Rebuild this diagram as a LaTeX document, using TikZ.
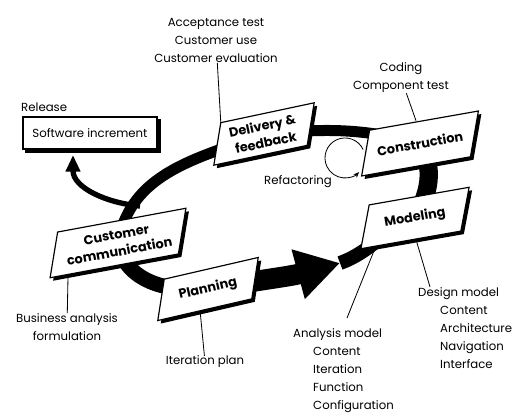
\documentclass[tikz,border=0pt]{standalone}
\usepackage{fontspec}
\setmainfont{Poppins}
\usetikzlibrary{arrows.meta, calc}
\pgfdeclarelayer{back}
\pgfdeclarelayer{boxes}
\pgfsetlayers{back,boxes,main}

\begin{document}
\begin{tikzpicture}[x=0.03cm, y=0.03cm,
    phase/.style={align=center, inner sep=0pt, font=\fontsize{11}{14.5}\selectfont\bfseries},
    note/.style={align=center, inner sep=0pt, font=\fontsize{10}{15.4}\selectfont},
    link/.style={line width=0.7pt},
    band/.style={line width=0.33cm}]
\useasboundingbox (0,0) rectangle (516,414);

% the five framework activities
\node[phase, rotate=12, minimum width=2.85cm, minimum height=1.29cm] (deliv) at (264,280) {Delivery \&\\feedback};
\node[phase, rotate=10, minimum width=3.3cm, minimum height=1.38cm] (constr) at (420,270.5) {Construction};
\node[phase, rotate=10, minimum width=3.03cm, minimum height=1.32cm] (model) at (415,196) {Modeling};
\node[phase, rotate=10.5, minimum width=3.9cm, minimum height=1.38cm] (comm) at (118,171) {Customer\\communication};
\node[phase, rotate=13, minimum width=2.88cm, minimum height=1.26cm] (plan) at (208,125) {Planning};

\node[draw, fill=white, line width=1pt, minimum width=4.02cm, minimum height=0.96cm] (soft) at (90,281) {Software increment};
\node[note, anchor=west] (rel) at (21,307) {Release};

% notes
\node[note] (acc) at (216,373.5) {Acceptance test\\Customer use\\Customer evaluation};
\node[note] (cod) at (401,336) {Coding\\Component test};
\node[note] (ref) at (298,232) {Refactoring};
\node[note] (bus) at (67,87) {Business analysis\\formulation};
\node[note] (itp) at (205,52) {Iteration plan};
\node[note, align=left, anchor=north west] (ana) at (293,86) {Analysis model\\\hspace*{0.6cm}Content\\\hspace*{0.6cm}Iteration\\\hspace*{0.6cm}Function\\\hspace*{0.6cm}Configuration};
\node[note, align=left, anchor=north west] (des) at (418,127) {Design model\\\hspace*{0.66cm}Content\\\hspace*{0.66cm}Architecture\\\hspace*{0.66cm}Navigation\\\hspace*{0.66cm}Interface};

\coordinate (tip) at (340,151);
\coordinate (brn) at (140,208);
\coordinate (up) at (73,259);

% the loop
\begin{pgfonlayer}{back}
\draw[band, line width=0.55cm] (model.center) to[out=60,in=-60] (constr.center);
\draw[band] (constr.center) to[out=165,in=5] (deliv.center);
\draw[band] (deliv.center) to[out=200,in=80] (comm.center);
\draw[band, line width=0.45cm] (comm.center) to[out=-80,in=185] (plan.center);
\draw[band, line width=0.42cm] (tip) to[out=20,in=200] (model.center);
\draw[line width=0.62cm, -{Triangle[length=1.3cm, width=1.45cm]}] (plan.center) to[out=10,in=195] (tip);
\draw[line width=0.16cm, -{Triangle[length=0.5cm, width=0.42cm]}] (brn) to[out=175,in=-90] (up);
\end{pgfonlayer}

% boxes with shadow
\begin{pgfonlayer}{boxes}
\foreach \n in {deliv,constr,model,comm,plan}{
  \fill ([shift={(11,-3)}]\n.north west) -- ([shift={(11,-3)}]\n.north east)
     -- ([shift={(-5,-3)}]\n.south east) -- ([shift={(-5,-3)}]\n.south west) -- cycle;
  \draw[fill=white, line width=1pt] ([shift={(8,0)}]\n.north west) -- ([shift={(8,0)}]\n.north east)
     -- ([shift={(-8,0)}]\n.south east) -- ([shift={(-8,0)}]\n.south west) -- cycle;
}
\fill ([shift={(3,-3)}]soft.north west) rectangle ([shift={(3,-3)}]soft.south east);
\end{pgfonlayer}

% refactoring loop
\draw[link, -{Stealth[length=5pt, width=4pt]}] (363.1,264.5) arc[start angle=25, end angle=315, radius=20];

% connectors to the notes
\draw[link] (acc) -- ([shift={(8,0)}]deliv.north west);
\draw[link] (cod) -- (constr.north);
\draw[link] (bus) -- ($(comm.south west)!0.14!(comm.south east)+(-8,0)$);
\draw[link] ($(plan.south west)!0.45!(plan.south east)+(-8,0)$) -- (itp);
\draw[link] ($(model.south west)!0.15!(model.south east)+(-8,0)$) -- ([shift={(54,10)}]ana.north west);
\draw[link] ($(model.south west)!0.55!(model.south east)+(-8,0)$) -- ([shift={(12,0)}]des.north west);
\end{tikzpicture}
\end{document}
